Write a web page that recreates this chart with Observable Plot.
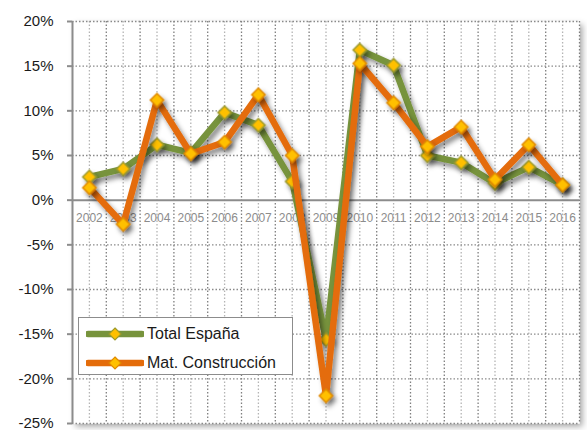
<!DOCTYPE html>
<html>
<head>
<meta charset="utf-8">
<script src="https://cdn.jsdelivr.net/npm/d3@7"></script>
<script src="https://cdn.jsdelivr.net/npm/@observablehq/plot@0.6"></script>
<style>
  body { margin: 0; background: #fff; }
  #wrap { position: relative; width: 587px; height: 430px; overflow: hidden; }
  #legend {
    position: absolute; left: 78px; top: 317px; width: 215px; height: 58px;
    border: 1.5px solid #8c8c8c; background: #fff; box-sizing: border-box;
    font-family: "Liberation Sans", sans-serif; font-size: 16px; color: #1a1a1a;
  }
  .row { position: absolute; left: 7px; height: 20px; display: flex; align-items: center; }
  .row svg { display: block; margin-right: 3px; }
</style>
</head>
<body>
<div id="wrap"></div>
<script>
const years = ["2002","2003","2004","2005","2006","2007","2008","2009","2010","2011","2012","2013","2014","2015","2016"];
const totalEspana = [2.6, 3.5, 6.2, 5.3, 9.8, 8.4, 2.1, -15.6, 16.8, 15.1, 5.0, 4.2, 1.9, 3.7, 1.7];
const matConstruccion = [1.4, -2.7, 11.2, 5.2, 6.5, 11.8, 5.0, -21.9, 15.3, 10.9, 6.0, 8.2, 2.3, 6.2, 1.7];
const yTicks = [-25, -20, -15, -10, -5, 0, 5, 10, 15, 20];
const seriesNames = ["Total España", "Mat. Construcción"];
const seriesColors = ["#77933C", "#E46C0A"];
const markerStrokes = ["#9C9A2C", "#E08A00"];

const rows = years.map((y, i) => ({year: +y, total: totalEspana[i], mat: matConstruccion[i]}));
const centers = years.map(y => +y);
const bounds = years.map(y => +y - 0.5).concat([+years[years.length - 1] + 0.5]);
const xMin = bounds[0], xMax = bounds[bounds.length - 1];

const chart = Plot.plot({
  width: 587,
  height: 430,
  marginLeft: 72,
  marginRight: 8,
  marginTop: 21,
  marginBottom: 7,
  style: {fontFamily: "Liberation Sans, sans-serif", background: "#fff"},
  x: {type: "linear", domain: [xMin, xMax], axis: null},
  y: {domain: [-25, 20], axis: null},
  marks: [
    Plot.frame({fill: "#fff", stroke: "none"}),
    Plot.ruleX(centers, {stroke: "#b4b4b4", strokeWidth: 1.3, strokeDasharray: "1.5,2"}),
    Plot.ruleX(bounds.slice(1), {stroke: "#7f7f7f", strokeWidth: 1.3, strokeDasharray: "1.5,2"}),
    Plot.ruleY(yTicks.filter(d => d !== 0), {stroke: "#8a8a8a", strokeWidth: 1.3, strokeDasharray: "1.5,2"}),
    Plot.text(years, {x: d => +d, y: 0, dy: 17.5, text: d => d, fill: "#8c8c8c", fontSize: 12}),
    Plot.ruleY([0], {stroke: "#8c8c8c", strokeWidth: 2}),
    Plot.ruleX([xMin], {stroke: "#8c8c8c", strokeWidth: 2}),
    Plot.axisY({ticks: yTicks, tickFormat: d => d + "%", tickSize: 5, tickPadding: 14,
      fontSize: 15, stroke: "#8c8c8c", fill: "#1a1a1a", strokeWidth: 2}),
    Plot.line(rows, {x: "year", y: "total", stroke: seriesColors[0], strokeWidth: 6.5, strokeLinejoin: "miter"}),
    Plot.dot(rows, {x: "year", y: "total", symbol: "diamond2", r: 6, fill: "#FFC000", stroke: markerStrokes[0], strokeWidth: 1.5}),
    Plot.line(rows, {x: "year", y: "mat", stroke: seriesColors[1], strokeWidth: 6.5, strokeLinejoin: "miter"}),
    Plot.dot(rows, {x: "year", y: "mat", symbol: "diamond2", r: 6, fill: "#FFC000", stroke: markerStrokes[1], strokeWidth: 1.5})
  ]
});

// drop shadow filter
const ns = "http://www.w3.org/2000/svg";
const defs = document.createElementNS(ns, "defs");
defs.innerHTML = `
  <filter id="sh" x="-20%" y="-20%" width="140%" height="140%">
    <feDropShadow dx="3" dy="4" stdDeviation="2.5" flood-color="#000" flood-opacity="0.45"/>
  </filter>
  <filter id="fsh" x="-5%" y="-5%" width="112%" height="112%">
    <feDropShadow dx="3" dy="3" stdDeviation="3" flood-color="#000" flood-opacity="0.35"/>
  </filter>`;
chart.insertBefore(defs, chart.firstChild);
chart.querySelectorAll('[aria-label="line"], [aria-label="dot"]').forEach(g => g.setAttribute("filter", "url(#sh)"));
const fr = chart.querySelector('[aria-label="frame"]');
if (fr) fr.setAttribute("filter", "url(#fsh)");

const wrap = document.getElementById("wrap");
wrap.appendChild(chart);

// legend
const legend = document.createElement("div");
legend.id = "legend";
seriesNames.forEach((name, i) => {
  const row = document.createElement("div");
  row.className = "row";
  row.style.top = (i === 0 ? 6 : 35) + "px";
  row.innerHTML = `<svg width="58" height="14">
      <line x1="2" y1="7" x2="56" y2="7" stroke="${seriesColors[i]}" stroke-width="6.5" stroke-linecap="round"/>
      <path d="M29,1 L35,7 L29,13 L23,7 Z" fill="#FFC000" stroke="${markerStrokes[i]}" stroke-width="1.2"/>
    </svg><span>${name}</span>`;
  legend.appendChild(row);
});
wrap.appendChild(legend);
</script>
</body>
</html>
